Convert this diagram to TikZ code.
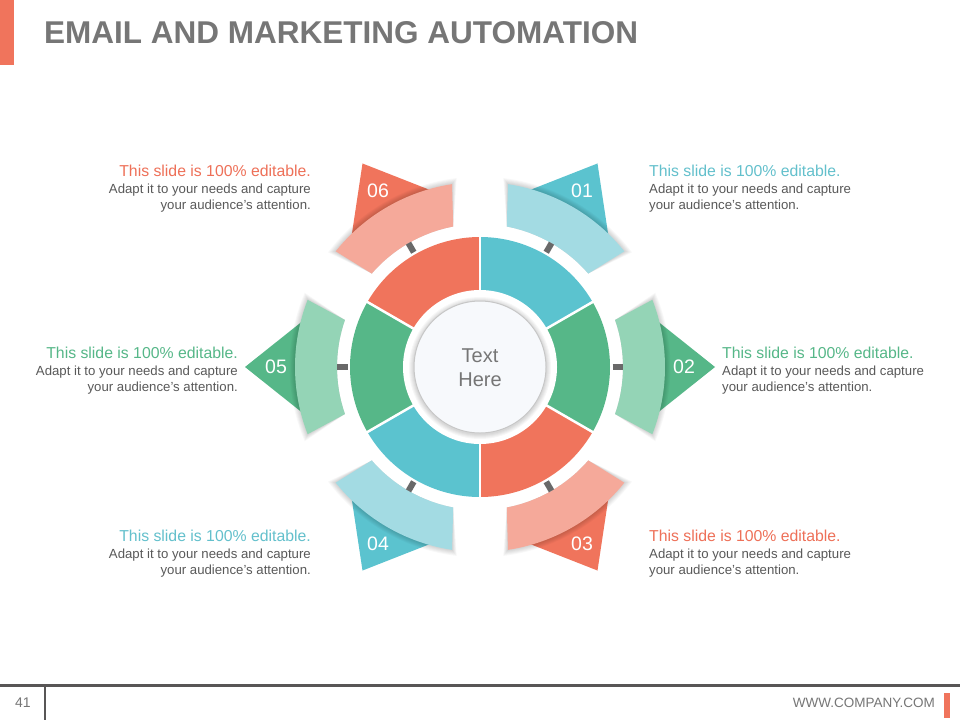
\documentclass[tikz,border=0pt]{standalone}
\usepackage{fontspec}
\setmainfont{Liberation Sans}
\definecolor{blueD}{RGB}{91,195,207}
\definecolor{blueL}{RGB}{163,219,227}
\definecolor{greenD}{RGB}{86,183,136}
\definecolor{greenL}{RGB}{148,212,182}
\definecolor{orangeD}{RGB}{240,116,92}
\definecolor{orangeL}{RGB}{245,169,154}
\definecolor{blueT}{RGB}{99,192,204}
\definecolor{greenT}{RGB}{86,183,136}
\definecolor{orangeT}{RGB}{238,112,88}
\definecolor{bodygray}{RGB}{89,89,89}
\definecolor{titlegray}{RGB}{118,118,118}
\definecolor{footgray}{RGB}{88,86,86}
\definecolor{tickgray}{RGB}{105,105,105}
\definecolor{innerfill}{RGB}{247,249,252}
\tikzset{
  headtxt/.style={inner sep=0pt, font=\fontsize{15.8}{19}\selectfont},
  bodytxt/.style={inner sep=0pt, text=bodygray, font=\fontsize{13.2}{16}\selectfont},
  numtxt/.style={inner sep=0pt, text=white, font=\fontsize{19.5}{21}\selectfont},
  tickmark/.style={draw=tickgray, line width=6pt},
  sepline/.style={draw=white, line width=2.5pt},
}
\begin{document}
\begin{tikzpicture}[x=1pt,y=1pt]
\useasboundingbox (0,0) rectangle (960,-720);
\fill[white] (0,0) rectangle (960,-720);
% title
\fill[orangeD] (0,0) rectangle (14,-65);
\node[anchor=base west, inner sep=0pt, text=titlegray, font=\fontsize{31.5}{36}\selectfont\bfseries] (title) at (44,-43.5) {EMAIL AND MARKETING AUTOMATION};
% diagram
\begin{scope}[shift={(480,-367)}]
  % triangles
  \foreach \a/\dc in {60/blueD, 0/greenD, -60/orangeD, -120/blueD, 180/greenD, 120/orangeD}{
    \fill[\dc, rotate=\a] (235,0) -- (165,55.8) -- (165,-55.8) -- cycle;
  }
  % band shadows and bands
  \foreach \a/\lc in {60/blueL, 0/greenL, -60/orangeL, -120/blueL, 180/greenL, 120/orangeL}{
    \foreach \k in {1,...,6}{
      \fill[black, opacity=0.028, rotate=\a] (-19.2:143) arc[start angle=-19.2, end angle=19.2, radius=143] -- ({21.3+0.28*\k}:{185+0.9*\k}) arc[start angle={21.3+0.28*\k}, end angle={-21.3-0.28*\k}, radius={185+0.9*\k}] -- cycle;
    }
    \fill[\lc, rotate=\a] (-19.2:143) arc[start angle=-19.2, end angle=19.2, radius=143] -- (21.3:185) arc[start angle=21.3, end angle=-21.3, radius=185] -- cycle;
  }
  % numbers and ticks
  \foreach \a/\n in {60/01, 0/02, -60/03, -120/04, 180/05, 120/06}{
    \node[numtxt] (num\n) at (\a:204) {\n};
    \draw[tickmark] (\a:132.5) -- (\a:143);
  }
  % ring
  \foreach \s/\c in {30/blueD, -30/greenD, -90/orangeD, -150/blueD, 150/greenD, 90/orangeD}{
    \fill[\c] (0,0) -- (\s:130) arc[start angle=\s, end angle=\s+60, radius=130] -- cycle;
  }
  \foreach \s in {30,90,...,330}{
    \draw[sepline] (0,0) -- (\s:131);
  }
  % center
  \fill[white] (0,0) circle (77);
  \foreach \k in {1,...,5}{
    \fill[black, opacity=0.03] (0,-1) circle ({66+\k});
  }
  \fill[innerfill] (0,0) circle (66);
  \draw[black!22, line width=1pt] (0,0) circle (66);
  \node[align=center, inner sep=0pt, text=titlegray, font=\fontsize{20}{24}\selectfont] (center) at (0,-1) {Text\\Here};
\end{scope}
% text blocks
\foreach \x/\y/\anc/\col/\id in {649/176/west/blueT/1, 722/358/west/greenT/2, 649/541/west/orangeT/3, 311/541/east/blueT/4, 238/358/east/greenT/5, 311/176/east/orangeT/6}{
  \node[headtxt, text=\col, anchor=base \anc] (h\id) at (\x,-\y) {This slide is 100\% editable.};
  \node[bodytxt, anchor=base \anc] (a\id) at (\x,{-\y-17}) {Adapt it to your needs and capture};
  \node[bodytxt, anchor=base \anc] (b\id) at (\x,{-\y-33.5}) {your audience's attention.};
}
% footer
\draw[footgray, line width=3pt] (0,-685) -- (960,-685);
\draw[footgray, line width=2.5pt] (45,-685) -- (45,-720);
\node[inner sep=0pt, text=titlegray, font=\fontsize{14}{16}\selectfont] (page) at (23,-703) {41};
\node[anchor=east, inner sep=0pt, text=titlegray, font=\fontsize{13.5}{16}\selectfont] (web) at (935,-703) {WWW.COMPANY.COM};
\fill[orangeD] (944,-693) rectangle (950,-718);
\end{tikzpicture}
\end{document}
